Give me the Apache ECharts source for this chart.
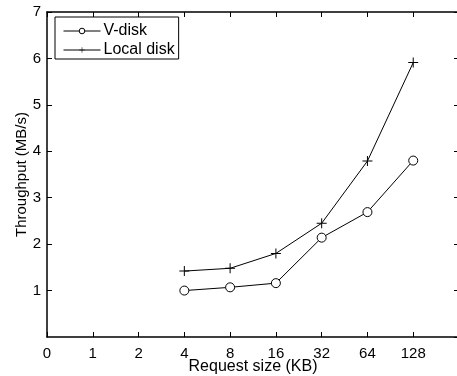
<!DOCTYPE html>
<html><head><meta charset="utf-8">
<script src="https://cdn.jsdelivr.net/npm/echarts@6/dist/echarts.min.js"></script>
<style>html,body{margin:0;padding:0;background:#fff}#c{width:457px;height:376px}</style>
</head><body><div id="c"></div>
<script>
const categories = ['0','1','2','4','8','16','32','64','128',''];
const sizes = ['4','8','16','32','64','128'];
const vdisk = [1.0, 1.07, 1.16, 2.14, 2.69, 3.80];
const localDisk = [1.42, 1.48, 1.80, 2.45, 3.79, 5.91];
const yTicks = [0,1,2,3,4,5,6,7];

function toSeries(vals){
  return categories.map(c => { const i = sizes.indexOf(c); return i >= 0 ? vals[i] : null; });
}
const FONT = 'Liberation Sans, Arial, Helvetica, sans-serif';
const plus = 'path://M4.5,0h1v10h-1z M0,4.5h10v1h-10z';
const chart = echarts.init(document.getElementById('c'), null, {renderer:'canvas'});
const axisCommon = {
  axisLine:{show:true, onZero:false, lineStyle:{color:'#000', width:1.5}},
  axisTick:{show:true, inside:true, length:5, lineStyle:{color:'#000', width:1}},
  splitLine:{show:false}
};
chart.setOption({
  animation:false,
  backgroundColor:'#fff',
  textStyle:{fontFamily:FONT},
  grid:{left:47, right:-2, top:12, bottom:39, containLabel:false, outerBoundsMode:'none'},
  legend:{
    orient:'vertical', left:55, top:17,
    data:['V-disk','Local disk'],
    backgroundColor:'#fff', borderColor:'#000', borderWidth:1,
    padding:[6,4,1,8], itemGap:3, itemWidth:37, itemHeight:7,
    itemStyle:{borderWidth:1},
    lineStyle:{width:1},
    textStyle:{fontSize:16, color:'#000', fontFamily:FONT, padding:[0,0,0,-2]}
  },
  xAxis:[
    Object.assign({type:'category', data:categories, boundaryGap:false, position:'bottom',
      name:'Request size (KB)', nameLocation:'middle', nameGap:22, nameMoveOverlap:false,
      nameTextStyle:{fontSize:16, color:'#000', fontFamily:FONT},
      axisLabel:{fontSize:15, color:'#000', margin:9, fontFamily:FONT, interval:0}}, axisCommon),
    Object.assign({type:'category', data:categories, boundaryGap:false, position:'top',
      axisLabel:{show:false}}, axisCommon)
  ],
  yAxis:[
    Object.assign({type:'value', min:yTicks[0], max:yTicks[yTicks.length-1], interval:1, position:'left',
      name:'Throughput (MB/s)', nameLocation:'middle', nameGap:18, nameMoveOverlap:false,
      nameTextStyle:{fontSize:15, color:'#000', fontFamily:FONT},
      axisLabel:{fontSize:15, color:'#000', margin:6, showMinLabel:false, fontFamily:FONT}}, axisCommon),
    Object.assign({type:'value', min:yTicks[0], max:yTicks[yTicks.length-1], interval:1, position:'right',
      axisLabel:{show:false}}, axisCommon)
  ],
  series:[
    {name:'V-disk', type:'line', data:toSeries(vdisk), symbol:'circle', symbolSize:9,
     showAllSymbol:true, connectNulls:false,
     lineStyle:{color:'#000', width:1}, itemStyle:{color:'#fff', borderColor:'#000', borderWidth:1}},
    {name:'Local disk', type:'line', data:toSeries(localDisk), symbol:plus, symbolSize:10,
     showAllSymbol:true,
     lineStyle:{color:'#000', width:1}, itemStyle:{color:'#000', borderWidth:0}}
  ]
});
</script></body></html>
